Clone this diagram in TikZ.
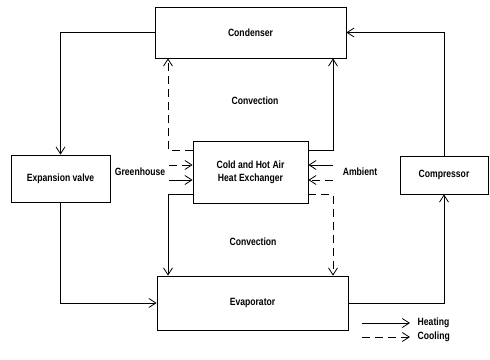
\documentclass[tikz,border=0pt]{standalone}
\usepackage{fontspec}
\setmainfont{Liberation Sans}[FakeStretch=0.82]
\usetikzlibrary{arrows.meta}
\begin{document}
\begin{tikzpicture}[x=1pt,y=-1pt,line width=0.8pt,
  box/.style={draw,inner sep=0pt},
  heat/.style={-{Straight Barb[length=7pt,width=9pt]}},
  cool/.style={heat,dash pattern=on 8pt off 5pt},
  every node/.style={font=\fontsize{10.5}{13}\selectfont\bfseries}]
\useasboundingbox (0,0) rectangle (490,359);
\node[box,minimum width=191pt,minimum height=51pt] (cond) at (250.5,32.5) {Condenser};
\node[box,minimum width=99pt,minimum height=47pt] (exp) at (60.5,178.5) {Expansion valve};
\node[box,minimum width=115pt,minimum height=62pt,align=center] (hx) at (250.5,172) {Cold and Hot Air\\Heat Exchanger};
\node[box,minimum width=191pt,minimum height=54pt] (evap) at (252.5,303) {Evaporator};
\node[box,minimum width=88pt,minimum height=38pt] (comp) at (444,175) {Compressor};
\node (conv1) at (255,101) {Convection};
\node (conv2) at (253,242) {Convection};
\node (gh) at (140,172) {Greenhouse};
\node (amb) at (360,172) {Ambient};
\coordinate (hl) at (168,0);
\coordinate (hr) at (333,0);
% refrigerant loop
\draw[heat] (cond.west) -| (exp.north);
\draw[heat] (exp.south) |- (evap.west);
\draw[heat] (evap.east) -| (comp.south);
\draw[heat] (comp.north) |- (cond.east);
% convection
\draw[cool] ([yshift=-10pt]hx.north west) -| (hl |- cond.south);
\draw[heat] ([yshift=-10pt]hx.north east) -| (hr |- cond.south);
\draw[heat] ([yshift=9pt]hx.south west) -| (hl |- evap.north);
\draw[cool] ([yshift=9pt]hx.south east) -| (hr |- evap.north);
% greenhouse and ambient air
\draw[cool] ([yshift=7pt]gh.east) -- ([yshift=7pt]gh.east -| hx.west);
\draw[heat] ([yshift=-8pt]gh.east) -- ([yshift=-8pt]gh.east -| hx.west);
\draw[heat] ([yshift=7pt]hr |- amb.west) -- ([yshift=7pt]amb.west -| hx.east);
\draw[cool] ([yshift=-8pt]hr |- amb.west) -- ([yshift=-8pt]amb.west -| hx.east);
% legend
\node[anchor=west] (lheat) at (414,323) {Heating};
\node[anchor=west] (lcool) at (414,337) {Cooling};
\coordinate (lh) at (362,323);
\coordinate (lc) at (362,337);
\draw[heat,shorten >=4pt] (lh) -- (lheat.west);
\draw[cool,shorten >=4pt] (lc) -- (lcool.west);
\end{tikzpicture}
\end{document}
